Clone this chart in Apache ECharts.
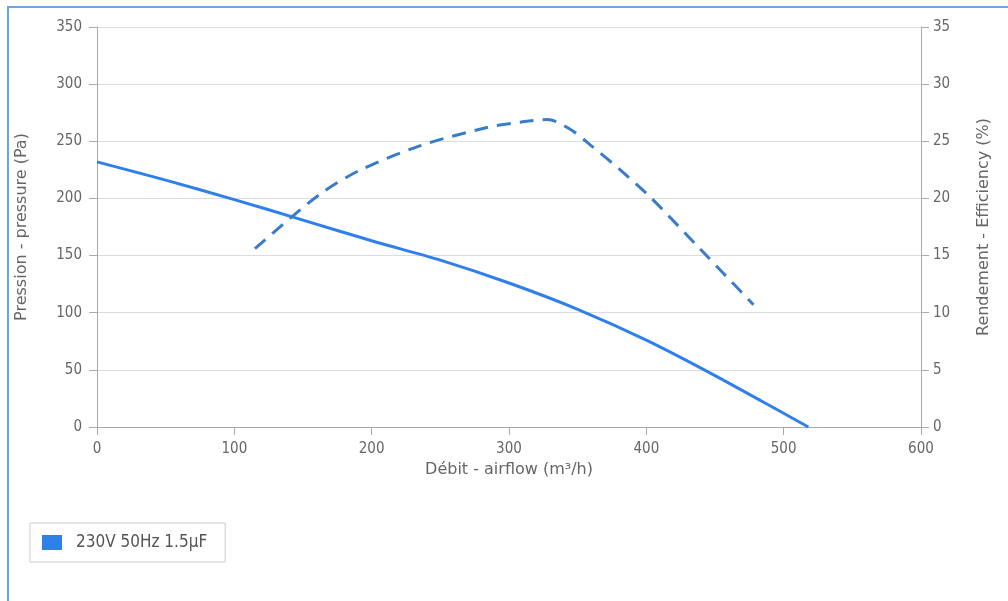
<!DOCTYPE html>
<html>
<head>
<meta charset="utf-8">
<script src="https://cdn.jsdelivr.net/npm/echarts@6/dist/echarts.min.js"></script>
<style>html,body{margin:0;padding:0;background:#fff;}#c{width:1008px;height:601px;}</style>
</head>
<body>
<div id="c"></div>
<script>
const seriesName = '230V 50Hz 1.5µF';
const pressureFlow = [0, 50, 100, 150, 200, 250, 300, 350, 400, 450, 500, 518];
const pressureValues = [232, 216, 199, 181, 163, 146, 126, 103, 76, 45, 12, 0];
const effFlow = [115, 140, 165, 192, 235, 284, 310, 328, 344, 360, 380, 403, 439, 478];
const effValues = [15.6, 18.2, 20.6, 22.5, 24.6, 26.2, 26.7, 26.9, 26.1, 24.6, 22.6, 20.1, 15.6, 10.7];

const pressureData = pressureFlow.map((x, i) => [x, pressureValues[i]]);
const effData = effFlow.map((x, i) => [x, effValues[i]]);

const FONT = '"DejaVu Sans Condensed", "DejaVu Sans", sans-serif';
const labelStyle = { color: '#666', fontSize: 15, fontFamily: FONT };
const nameStyle = { color: '#666', fontSize: 16, fontFamily: '"DejaVu Sans", sans-serif' };
const axisLine = { show: true, lineStyle: { color: '#aaa', width: 1 } };
const axisTick = { show: true, length: 8, lineStyle: { color: '#aaa' } };

const chart = echarts.init(document.getElementById('c'), null, { renderer: 'canvas' });
chart.setOption({
  animation: false,
  backgroundColor: '#fff',
  graphic: [{
    type: 'rect', shape: { x: 8, y: 7, width: 1100, height: 700 },
    style: { fill: 'none', stroke: '#6aa6ec', lineWidth: 2 }, silent: true, z: -1
  }],
  grid: { left: 97, right: 87, top: 27, bottom: 174 },
  legend: {
    show: true, data: [seriesName], left: 30, top: 523,
    orient: 'vertical', itemWidth: 20, itemHeight: 15, itemGap: 5,
    borderColor: '#ccc', borderWidth: 1, padding: [11, 18, 11, 12],
    textStyle: { color: '#555', fontSize: 17, fontFamily: FONT, padding: [0, 0, 0, 9] },
    icon: 'rect'
  },
  xAxis: {
    type: 'value', min: 0, max: 600, interval: 100,
    name: 'Débit - airflow (m³/h)', nameLocation: 'middle', nameGap: 27, nameTextStyle: nameStyle,
    axisLine: axisLine, axisTick: axisTick, axisLabel: Object.assign({ margin: 15 }, labelStyle),
    splitLine: { show: false }
  },
  yAxis: [{
    type: 'value', min: 0, max: 350, interval: 50, position: 'left',
    name: 'Pression - pressure (Pa)', nameLocation: 'middle', nameGap: 67, nameRotate: 90, nameTextStyle: nameStyle,
    axisLine: axisLine, axisTick: axisTick, axisLabel: Object.assign({ margin: 15 }, labelStyle),
    splitLine: { show: true, lineStyle: { color: '#ddd', width: 1 } }
  }, {
    type: 'value', min: 0, max: 35, interval: 5, position: 'right',
    name: 'Rendement - Efficiency (%)', nameLocation: 'middle', nameGap: 55, nameRotate: 90, nameTextStyle: nameStyle,
    axisLine: axisLine, axisTick: axisTick, axisLabel: Object.assign({ margin: 12 }, labelStyle),
    splitLine: { show: false }
  }],
  series: [{
    name: seriesName, type: 'line', yAxisIndex: 0, data: pressureData,
    smooth: 0.3, showSymbol: false, symbol: 'none',
    lineStyle: { color: '#2f80ea', width: 3 }, itemStyle: { color: '#2f80ea' }
  }, {
    name: 'eff', type: 'line', yAxisIndex: 1, data: effData,
    smooth: 0.3, showSymbol: false, symbol: 'none',
    lineStyle: { color: '#3a7ccc', width: 3, type: [14, 9] }, itemStyle: { color: '#3a7ccc' }
  }]
});
</script>
</body>
</html>
